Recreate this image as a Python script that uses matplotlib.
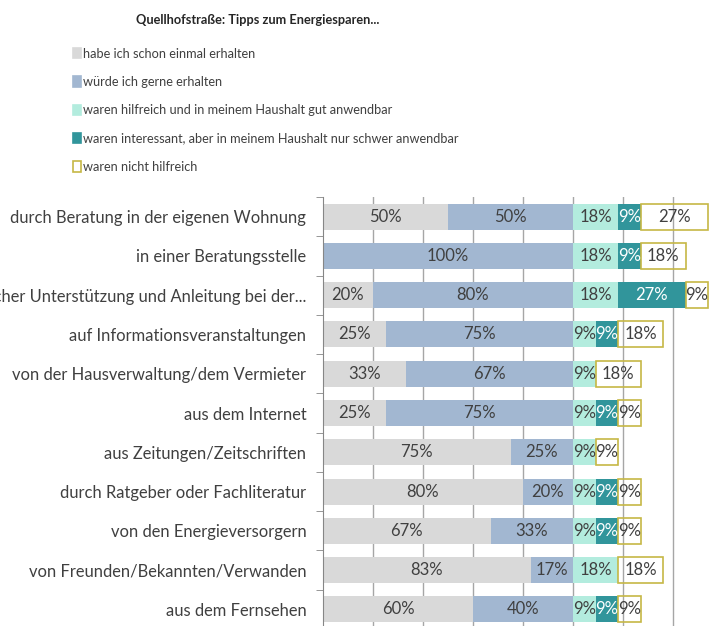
"""Quellhofstrasse: Tipps zum Energiesparen - gestapeltes Balkendiagramm."""

import matplotlib
matplotlib.use('Agg')
import matplotlib.pyplot as plt
from matplotlib.patches import Patch

plt.rcParams['font.family'] = ['Lato', 'DejaVu Sans']

kategorien = [
    'durch Beratung in der eigenen Wohnung',
    'in einer Beratungsstelle',
    'mit persönlicher Unterstützung und Anleitung bei der...',
    'auf Informationsveranstaltungen',
    'von der Hausverwaltung/dem Vermieter',
    'aus dem Internet',
    'aus Zeitungen/Zeitschriften',
    'durch Ratgeber oder Fachliteratur',
    'von den Energieversorgern',
    'von Freunden/Bekannten/Verwanden',
    'aus dem Fernsehen',
]

serien = [
    'habe ich schon einmal erhalten',
    'würde ich gerne erhalten',
    'waren hilfreich und in meinem Haushalt gut anwendbar',
    'waren interessant, aber in meinem Haushalt nur schwer anwendbar',
    'waren nicht hilfreich',
]

erhalten = [50, 0, 20, 25, 33, 25, 75, 80, 67, 83, 60]
gerne = [50, 100, 80, 75, 67, 75, 25, 20, 33, 17, 40]
hilfreich = [18, 18, 18, 9, 9, 9, 9, 9, 9, 18, 9]
interessant = [9, 9, 27, 9, 0, 9, 0, 9, 9, 0, 9]
nicht_hilfreich = [27, 18, 9, 18, 18, 9, 9, 9, 9, 18, 9]

werte = [erhalten, gerne, hilfreich, interessant, nicht_hilfreich]
farben = ['#d9d9d9', '#a2b7d1', '#b3ecde', '#31959b', 'none']
kanten = ['none', 'none', 'none', 'none', '#c6b845']
textfarben = ['#404040', '#404040', '#404040', '#ffffff', '#404040']
TXT = '#404040'

fig = plt.figure(figsize=(7.14, 6.26), dpi=100)
ax = fig.add_axes([323 / 714, -3 / 626, 400 / 714, 432 / 626])

y = list(range(len(kategorien)))
links = [0] * len(kategorien)
for name, v, c, e, tc in zip(serien, werte, farben, kanten, textfarben):
    bars = ax.barh(y, v, left=links, height=0.66, color=c, edgecolor=e,
                   linewidth=1.2 if e != 'none' else 0, zorder=2)
    ax.bar_label(bars, labels=[f'{w}%' if w else '' for w in v],
                 label_type='center', color=tc, fontsize=12)
    links = [a + b for a, b in zip(links, v)]

ax.set_xlim(0, 160)
ax.set_ylim(len(kategorien) - 0.5, -0.5)
ax.set_xticks(range(20, 161, 20))
ax.xaxis.grid(True, color='#a6a6a6', linewidth=1, zorder=0)
ax.set_axisbelow(True)
ax.tick_params(axis='x', length=0, labelbottom=False)
ax.set_yticks(y)
ax.set_yticklabels(kategorien, fontsize=11.9, color=TXT)
ax.set_yticks([i - 0.5 for i in range(len(kategorien) + 1)], minor=True)
ax.tick_params(axis='y', which='major', length=0, pad=12)
ax.tick_params(axis='y', which='minor', length=5, color='#868686', direction='out')
for s in ('top', 'right', 'bottom'):
    ax.spines[s].set_visible(False)
ax.spines['left'].set_color('#868686')

fig.text(258 / 714, 1 - 20 / 626, 'Quellhofstraße: Tipps zum Energiesparen...',
         ha='center', va='center', fontsize=9.2, fontweight='bold', color='#262626')

handles = [Patch(facecolor=c if c != 'none' else 'white', edgecolor=e if e != 'none' else c,
                 linewidth=1.2) for c, e in zip(farben, kanten)]
fig.legend(handles, serien, loc='upper left', bbox_to_anchor=(61 / 714, 1 - 36 / 626),
           frameon=False, fontsize=9.2, labelcolor=TXT, handlelength=0.65,
           handleheight=0.85, handletextpad=0.18, labelspacing=1.28)

fig.savefig('out.png', dpi=100)
